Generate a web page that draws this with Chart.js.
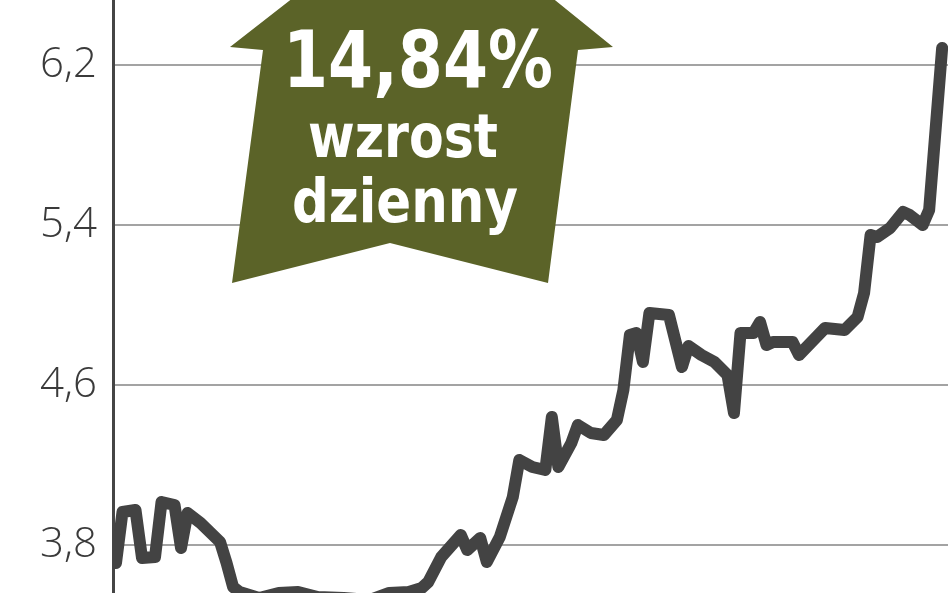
<!DOCTYPE html>
<html>
<head>
<meta charset="utf-8">
<script src="https://cdn.jsdelivr.net/npm/chart.js@4"></script>
<style>
  html, body { margin: 0; padding: 0; background: #fff; }
  #wrap { width: 948px; height: 593px; }
</style>
</head>
<body>
<div id="wrap"><canvas id="myChart" width="948" height="593"></canvas></div>
<script>
// session number and closing price
const days = [0, 1, 3, 4, 6, 7, 9, 10, 11, 13, 16, 17, 18, 19, 22, 25, 28, 31, 35, 39, 42, 45, 47, 48,
    50, 53, 54, 56, 57, 59, 61, 62, 64, 66, 67, 68, 70, 71, 73, 75, 77, 78, 79, 80, 81, 82, 85, 87, 88,
    90, 92, 94, 95, 96, 98, 99, 100, 101, 104, 105, 109, 112, 114, 115, 116, 117, 119, 121, 122, 124, 125, 127];
const prices = [3.71, 3.965, 3.975, 3.735, 3.74, 4.015, 4.00, 3.785, 3.96, 3.91, 3.815, 3.71, 3.59, 3.565,
    3.535, 3.56, 3.565, 3.54, 3.535, 3.525, 3.56, 3.565, 3.585, 3.615,
    3.74, 3.85, 3.775, 3.835, 3.715, 3.84, 4.04, 4.225, 4.19, 4.175, 4.44, 4.19, 4.31, 4.40, 4.36, 4.35,
    4.425, 4.575, 4.85, 4.86, 4.715, 4.96, 4.95, 4.69, 4.795,
    4.75, 4.715, 4.65, 4.46, 4.86, 4.86, 4.915, 4.80, 4.815, 4.815, 4.75, 4.885, 4.875, 4.94, 5.06,
    5.35, 5.34, 5.385, 5.465, 5.45, 5.40, 5.475, 6.285];
const yTicks = [3.8, 4.6, 5.4, 6.2];
const badgeLines = ['14,84%', 'wzrost', 'dzienny'];

const points = days.map((d, i) => ({ x: d, y: prices[i] }));

const badge = {
    id: 'badge',
    afterDraw(chart) {
        const c = chart.ctx;
        c.save();
        c.fillStyle = '#5b6328';
        c.beginPath();
        c.moveTo(425, -105);
        c.lineTo(613, 47);
        c.lineTo(578, 50);
        c.lineTo(548, 283);
        c.lineTo(390, 243);
        c.lineTo(232, 283);
        c.lineTo(263, 50);
        c.lineTo(230, 47);
        c.closePath();
        c.fill();

        c.fillStyle = '#ffffff';
        c.textBaseline = 'alphabetic';
        c.textAlign = 'left';
        const rows = [
            { text: badgeLines[0], size: 78, x: 283, w: 270, base: 87 },
            { text: badgeLines[1], size: 60, x: 308, w: 190, base: 157 },
            { text: badgeLines[2], size: 60, x: 292, w: 226, base: 222 }
        ];
        rows.forEach(r => {
            c.font = 'bold ' + r.size + 'px "DejaVu Sans"';
            const m = c.measureText(r.text).width;
            c.save();
            c.translate(r.x, r.base);
            c.scale(r.w / m, 1);
            c.fillText(r.text, 0, 0);
            c.restore();
        });
        c.restore();
    }
};

const ctx = document.getElementById('myChart').getContext('2d');
const myChart = new Chart(ctx, {
    type: 'line',
    data: {
        datasets: [{
            data: points,
            borderColor: '#434343',
            borderWidth: 12,
            borderJoinStyle: 'round',
            borderCapStyle: 'round',
            pointRadius: 0,
            tension: 0,
            fill: false
        }]
    },
    options: {
        responsive: false,
        animation: false,
        devicePixelRatio: 1,
        layout: { padding: 0 },
        plugins: {
            legend: { display: false },
            tooltip: { enabled: false }
        },
        scales: {
            x: {
                type: 'linear',
                display: false,
                min: -0.46,
                max: 127.9
            },
            y: {
                min: 3.56,
                max: 6.525,
                afterFit(scale) {
                    scale.width = 113;
                    scale.paddingTop = 0;
                    scale.paddingBottom = 0;
                },
                afterBuildTicks(scale) {
                    scale.ticks = yTicks.map(v => ({ value: v }));
                },
                grid: {
                    color: '#a3a3a3',
                    lineWidth: 2,
                    drawTicks: false
                },
                border: { display: true, color: '#454545', width: 3 },
                ticks: {
                    padding: 16,
                    color: '#3a3a3a',
                    font: { family: 'Open Sans', size: 42, weight: '300' },
                    callback: v => v.toFixed(1).replace('.', ',')
                }
            }
        }
    },
    plugins: [badge]
});
</script>
</body>
</html>
